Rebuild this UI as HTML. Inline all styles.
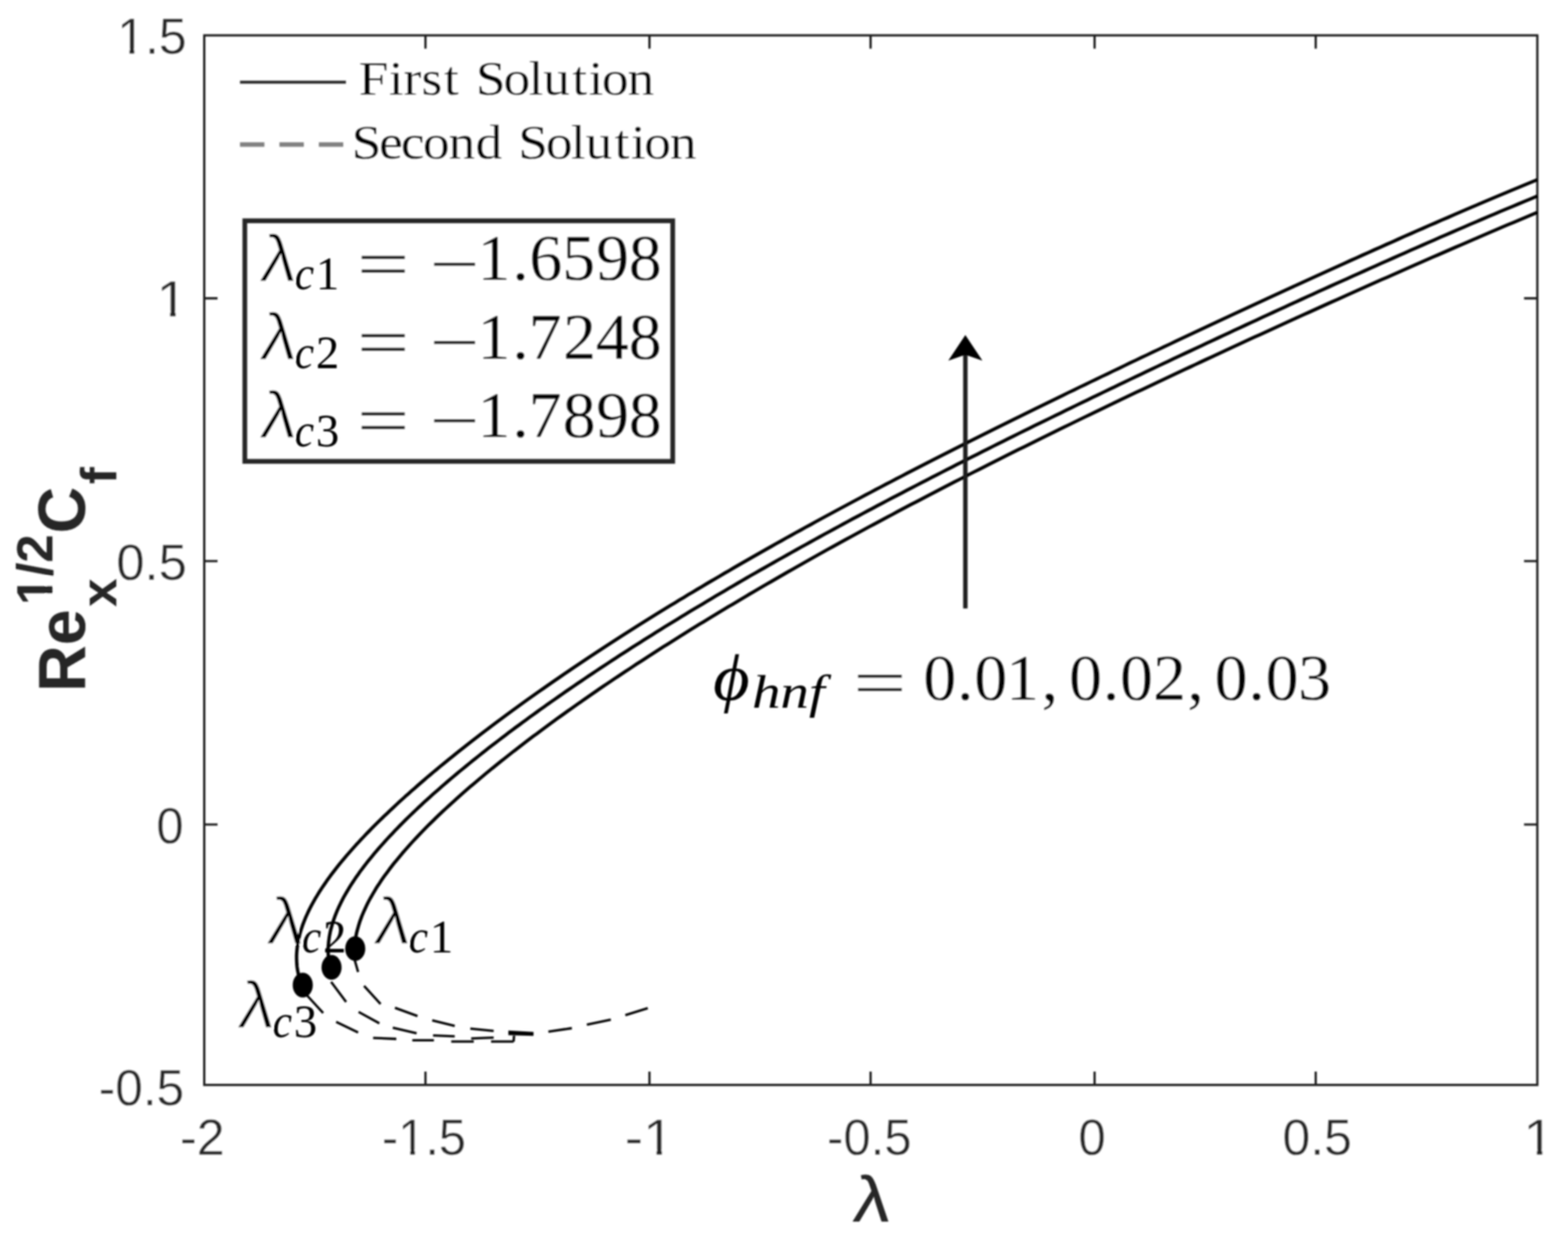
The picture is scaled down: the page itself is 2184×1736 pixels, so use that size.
<!DOCTYPE html>
<html lang="en"><head><meta charset="utf-8"><title>Skin friction vs λ</title><style>html,body{margin:0;padding:0;background:#fff;overflow:hidden}svg{display:block}</style></head><body><svg xmlns="http://www.w3.org/2000/svg" width="2184" height="1736" viewBox="0 0 2184 1736"><defs><filter id="soft" x="0" y="0" width="2184" height="1736" filterUnits="userSpaceOnUse"><feGaussianBlur stdDeviation="0.85"/></filter></defs><rect width="2184" height="1736" fill="#fff"/><g filter="url(#soft)"><g fill="none" stroke="#1e1e1e" stroke-width="3.10" stroke-linecap="butt">
<rect x="284.50" y="49.30" width="1856.80" height="1462.30"/>
<path d="M592.60 1511.60V1493.10M592.60 49.30V67.80M904.60 1511.60V1493.10M904.60 49.30V67.80M1212.60 1511.60V1493.10M1212.60 49.30V67.80M1524.60 1511.60V1493.10M1524.60 49.30V67.80M1832.60 1511.60V1493.10M1832.60 49.30V67.80M284.50 1148.80H303.00M2141.30 1148.80H2122.80M284.50 781.80H303.00M2141.30 781.80H2122.80M284.50 415.60H303.00M2141.30 415.60H2122.80"/>
</g>
<g font-family="'Liberation Sans', sans-serif" font-size="69.60" fill="#262626" stroke="#fff" stroke-width="0.45">
<g transform="translate(163.14 75.10) scale(1.0011 1)"><text>1.5</text><path d="M2.09 -7.31h14.89v11.14h-14.89zM24.08 -7.31h14.62v11.14h-14.62z" fill="#fff" stroke="none"/></g>
<g transform="translate(217.83 440.50) scale(1.1158 1)"><text>1</text><path d="M2.09 -7.31h14.89v11.14h-14.89zM24.08 -7.31h14.62v11.14h-14.62z" fill="#fff" stroke="none"/></g>
<g transform="translate(161.90 808.40) scale(1.0163 1)"><text>0.5</text></g>
<g transform="translate(217.72 1175.00) scale(0.9829 1)"><text>0</text></g>
<g transform="translate(137.38 1540.20) scale(0.9940 1)"><text>-0.5</text></g>
<g transform="translate(250.74 1608.80) scale(1.0070 1)"><text>-2</text></g>
<g transform="translate(531.95 1609.00) scale(0.9776 1)"><text>-1.5</text><path d="M25.27 -7.31h14.89v11.14h-14.89zM47.26 -7.31h14.62v11.14h-14.62z" fill="#fff" stroke="none"/></g>
<g transform="translate(870.35 1609.00) scale(1.0956 1)"><text>-1</text><path d="M25.27 -7.31h14.89v11.14h-14.89zM47.26 -7.31h14.62v11.14h-14.62z" fill="#fff" stroke="none"/></g>
<g transform="translate(1151.97 1608.80) scale(0.9810 1)"><text>-0.5</text></g>
<g transform="translate(1502.04 1608.80) scale(0.9857 1)"><text>0</text></g>
<g transform="translate(1786.15 1608.60) scale(1.0022 1)"><text>0.5</text></g>
<g transform="translate(2121.84 1608.60) scale(1.1000 1)"><text>1</text><path d="M2.09 -7.31h14.89v11.14h-14.89zM24.08 -7.31h14.62v11.14h-14.62z" fill="#fff" stroke="none"/></g>
</g>
<text transform="translate(1186.87 1702.30) skewX(-5.00) scale(1.1395 1.0000)" font-family="'Liberation Sans', sans-serif" font-size="90.50" font-weight="normal" font-style="normal" fill="#262626">λ</text>
<g transform="rotate(-90)" font-family="'Liberation Sans', sans-serif" font-weight="bold" fill="#262626">
<text transform="translate(-964.00 118.20) scale(1 1.030)" font-size="90.00">Re</text>
<text transform="translate(-843.10 73.00) scale(1 1.000)" font-size="71.00">1/2</text>
<path d="M-841.68 63.41h14.70v13.49h-14.70zM-816.33 63.41h13.49v13.49h-13.49z" fill="#fff"/>
<text transform="translate(-845.50 162.30) scale(1 1.000)" font-size="71.00">x</text>
<text transform="translate(-743.30 118.20) scale(1 1.030)" font-size="90.00">C</text>
<text transform="translate(-674.60 162.30) scale(1 1.000)" font-size="71.00">f</text>
</g>
<path d="M334.3 114.4H481.8" stroke="#262626" stroke-width="4" fill="none"/>
<path d="M334.3 201.4H478.5" stroke="#808080" stroke-width="6.4" stroke-dasharray="34 20.9" fill="none"/>
<text transform="scale(1.0900 1)" x="458.28 496.77 515.58 538.57 567.12 588.93 608.15 643.38 675.35 694.00 731.21 752.16 769.06 801.89" y="132.00" font-family="'Liberation Serif', serif" font-size="68.50" fill="#000" stroke="#fff" stroke-width="0.35" xml:space="preserve">First Solution</text>
<text transform="scale(1.0900 1)" x="449.29 484.48 512.24 540.37 573.20 607.60 643.03 662.26 697.48 729.46 748.11 785.32 806.27 823.17 856.00" y="221.30" font-family="'Liberation Serif', serif" font-size="68.50" fill="#000" stroke="#fff" stroke-width="0.35" xml:space="preserve">Second Solution</text>
<rect x="341.0" y="307.6" width="596.0" height="335.2" fill="none" stroke="#262626" stroke-width="6.6"/>
<text transform="translate(360.40 391.60) skewX(-6.00) scale(1.0683 0.9850)" font-family="'Liberation Sans', sans-serif" font-size="94.00" font-weight="normal" font-style="normal" fill="#000" stroke="#fff" stroke-width="1.7">λ</text>
<text transform="translate(410.38 403.40) scale(0.9345 1.0000)" font-family="'Liberation Serif', serif" font-size="65.00" font-weight="normal" font-style="italic" fill="#000">c</text>
<text transform="translate(439.90 403.40) scale(1.0000 1.0000)" font-family="'Liberation Serif', serif" font-size="65.00" font-weight="normal" font-style="normal" fill="#000">1</text>
<text transform="translate(496.76 398.60) scale(1.4059 1.0000)" font-family="'Liberation Serif', serif" font-size="93.00" font-weight="normal" font-style="normal" fill="#000" stroke="#fff" stroke-width="0.5">=</text>
<text transform="translate(598.10 398.60) scale(1.3343 1.0000)" font-family="'Liberation Serif', serif" font-size="93.00" font-weight="normal" font-style="normal" fill="#000" stroke="#fff" stroke-width="0.5">−</text>
<text transform="scale(1.0000 1)" x="664.92 713.58 737.17 782.94 830.32 875.86" y="390.20" font-family="'Liberation Serif', serif" font-size="92.00" fill="#000" stroke="#fff" stroke-width="0.35" xml:space="preserve">1.6598</text>
<text transform="translate(360.40 501.00) skewX(-6.00) scale(1.0683 0.9850)" font-family="'Liberation Sans', sans-serif" font-size="94.00" font-weight="normal" font-style="normal" fill="#000" stroke="#fff" stroke-width="1.7">λ</text>
<text transform="translate(410.38 512.80) scale(0.9345 1.0000)" font-family="'Liberation Serif', serif" font-size="65.00" font-weight="normal" font-style="italic" fill="#000">c</text>
<text transform="translate(439.90 512.80) scale(1.0000 1.0000)" font-family="'Liberation Serif', serif" font-size="65.00" font-weight="normal" font-style="normal" fill="#000">2</text>
<text transform="translate(496.76 508.00) scale(1.4059 1.0000)" font-family="'Liberation Serif', serif" font-size="93.00" font-weight="normal" font-style="normal" fill="#000" stroke="#fff" stroke-width="0.5">=</text>
<text transform="translate(598.10 508.00) scale(1.3343 1.0000)" font-family="'Liberation Serif', serif" font-size="93.00" font-weight="normal" font-style="normal" fill="#000" stroke="#fff" stroke-width="0.5">−</text>
<text transform="scale(1.0000 1)" x="664.92 713.58 736.25 784.32 829.63 875.86" y="499.60" font-family="'Liberation Serif', serif" font-size="92.00" fill="#000" stroke="#fff" stroke-width="0.35" xml:space="preserve">1.7248</text>
<text transform="translate(360.40 610.40) skewX(-6.00) scale(1.0683 0.9850)" font-family="'Liberation Sans', sans-serif" font-size="94.00" font-weight="normal" font-style="normal" fill="#000" stroke="#fff" stroke-width="1.7">λ</text>
<text transform="translate(410.38 622.20) scale(0.9345 1.0000)" font-family="'Liberation Serif', serif" font-size="65.00" font-weight="normal" font-style="italic" fill="#000">c</text>
<text transform="translate(439.90 622.20) scale(1.0000 1.0000)" font-family="'Liberation Serif', serif" font-size="65.00" font-weight="normal" font-style="normal" fill="#000">3</text>
<text transform="translate(496.76 617.40) scale(1.4059 1.0000)" font-family="'Liberation Serif', serif" font-size="93.00" font-weight="normal" font-style="normal" fill="#000" stroke="#fff" stroke-width="0.5">=</text>
<text transform="translate(598.10 617.40) scale(1.3343 1.0000)" font-family="'Liberation Serif', serif" font-size="93.00" font-weight="normal" font-style="normal" fill="#000" stroke="#fff" stroke-width="0.5">−</text>
<text transform="scale(1.0000 1)" x="664.92 713.58 736.25 783.86 830.32 875.86" y="609.00" font-family="'Liberation Serif', serif" font-size="92.00" fill="#000" stroke="#fff" stroke-width="0.35" xml:space="preserve">1.7898</text>
<text transform="translate(993.24 975.00) scale(1.0708 1.0000)" font-family="'Liberation Serif', serif" font-size="92.00" font-weight="normal" font-style="italic" fill="#000">ϕ</text>
<text transform="translate(1047.43 986.20) scale(1.2194 1.0000)" font-family="'Liberation Serif', serif" font-size="65.00" font-weight="normal" font-style="italic" fill="#000">hnf</text>
<text transform="translate(1188.27 982.00) scale(1.4423 1.0000)" font-family="'Liberation Serif', serif" font-size="92.00" font-weight="normal" font-style="normal" fill="#000" stroke="#fff" stroke-width="0.5">=</text>
<text transform="scale(1.0000 1)" x="1286.03 1333.03 1357.04 1401.31 1450.84" y="975.00" font-family="'Liberation Serif', serif" font-size="92.00" fill="#000" stroke="#fff" stroke-width="0.35" xml:space="preserve">0.01,</text>
<text transform="scale(1.0000 1)" x="1488.91 1535.92 1559.93 1606.04 1653.73" y="975.00" font-family="'Liberation Serif', serif" font-size="92.00" fill="#000" stroke="#fff" stroke-width="0.35" xml:space="preserve">0.02,</text>
<text transform="scale(1.0000 1)" x="1691.80 1738.81 1762.82 1808.01" y="975.00" font-family="'Liberation Serif', serif" font-size="92.00" fill="#000" stroke="#fff" stroke-width="0.35" xml:space="preserve">0.03</text>
<text transform="translate(519.20 1315.20) skewX(-6.00) scale(1.0683 0.9850)" font-family="'Liberation Sans', sans-serif" font-size="94.00" font-weight="normal" font-style="normal" fill="#000" stroke="#fff" stroke-width="1.7">λ</text>
<text transform="translate(569.18 1327.00) scale(0.9345 1.0000)" font-family="'Liberation Serif', serif" font-size="65.00" font-weight="normal" font-style="italic" fill="#000">c</text>
<text transform="translate(598.70 1327.00) scale(1.0000 1.0000)" font-family="'Liberation Serif', serif" font-size="65.00" font-weight="normal" font-style="normal" fill="#000">1</text>
<text transform="translate(370.60 1315.20) skewX(-6.00) scale(1.0683 0.9850)" font-family="'Liberation Sans', sans-serif" font-size="94.00" font-weight="normal" font-style="normal" fill="#000" stroke="#fff" stroke-width="1.7">λ</text>
<text transform="translate(420.58 1327.00) scale(0.9345 1.0000)" font-family="'Liberation Serif', serif" font-size="65.00" font-weight="normal" font-style="italic" fill="#000">c</text>
<text transform="translate(450.10 1327.00) scale(1.0000 1.0000)" font-family="'Liberation Serif', serif" font-size="65.00" font-weight="normal" font-style="normal" fill="#000">2</text>
<text transform="translate(329.70 1432.00) skewX(-6.00) scale(1.0683 0.9850)" font-family="'Liberation Sans', sans-serif" font-size="94.00" font-weight="normal" font-style="normal" fill="#000" stroke="#fff" stroke-width="1.7">λ</text>
<text transform="translate(379.68 1444.60) scale(0.9345 1.0000)" font-family="'Liberation Serif', serif" font-size="65.00" font-weight="normal" font-style="italic" fill="#000">c</text>
<text transform="translate(409.20 1444.60) scale(1.0000 1.0000)" font-family="'Liberation Serif', serif" font-size="65.00" font-weight="normal" font-style="normal" fill="#000">3</text>
<g fill="none" stroke="#000" stroke-width="4.70" stroke-linejoin="round">
<path d="M2141.3 250.4L2132.1 254.1L2123.0 257.9L2114.0 261.6L2104.9 265.4L2096.0 269.2L2087.0 272.9L2078.1 276.7L2069.2 280.4L2060.4 284.2L2051.6 287.9L2042.8 291.7L2034.1 295.4L2025.4 299.2L2016.7 303.0L2008.0 306.7L1999.4 310.5L1990.8 314.2L1982.2 318.0L1973.7 321.7L1965.1 325.5L1956.6 329.2L1948.1 333.0L1939.7 336.8L1931.2 340.5L1922.8 344.3L1914.4 348.0L1906.0 351.8L1897.7 355.5L1889.3 359.3L1881.0 363.0L1872.7 366.8L1864.4 370.6L1856.1 374.3L1847.8 378.1L1839.6 381.8L1831.3 385.6L1823.1 389.3L1814.9 393.1L1806.7 396.8L1798.5 400.6L1790.3 404.3L1782.2 408.1L1774.0 411.9L1765.9 415.6L1757.8 419.4L1749.7 423.1L1741.6 426.9L1733.5 430.6L1725.4 434.4L1717.3 438.1L1709.3 441.9L1701.2 445.7L1693.2 449.4L1685.2 453.2L1677.2 456.9L1669.2 460.7L1661.2 464.4L1653.2 468.2L1645.2 471.9L1637.2 475.7L1629.3 479.5L1621.4 483.2L1613.4 487.0L1605.5 490.7L1597.6 494.5L1589.7 498.2L1581.8 502.0L1573.9 505.7L1566.1 509.5L1558.2 513.3L1550.4 517.0L1542.6 520.8L1534.8 524.5L1526.9 528.3L1519.2 532.0L1511.4 535.8L1503.6 539.5L1495.9 543.3L1488.1 547.0L1480.4 550.8L1472.7 554.6L1465.0 558.3L1457.3 562.1L1449.6 565.8L1441.9 569.6L1434.3 573.3L1426.7 577.1L1419.1 580.8L1411.4 584.6L1403.9 588.4L1396.3 592.1L1388.7 595.9L1381.2 599.6L1373.7 603.4L1366.2 607.1L1358.7 610.9L1351.2 614.6L1343.7 618.4L1336.3 622.2L1328.9 625.9L1321.5 629.7L1314.1 633.4L1306.7 637.2L1299.3 640.9L1292.0 644.7L1284.7 648.4L1277.4 652.2L1270.1 655.9L1262.8 659.7L1255.6 663.5L1248.4 667.2L1241.2 671.0L1234.0 674.7L1226.8 678.5L1219.7 682.2L1212.6 686.0L1205.5 689.7L1198.4 693.5L1191.3 697.3L1184.3 701.0L1177.3 704.8L1170.3 708.5L1163.3 712.3L1156.4 716.0L1149.4 719.8L1142.5 723.5L1135.6 727.3L1128.8 731.1L1121.9 734.8L1115.1 738.6L1108.3 742.3L1101.5 746.1L1094.8 749.8L1088.1 753.6L1081.4 757.3L1074.7 761.1L1068.0 764.9L1061.4 768.6L1054.8 772.4L1048.2 776.1L1041.7 779.9L1035.1 783.6L1028.6 787.4L1022.1 791.1L1015.7 794.9L1009.2 798.6L1002.8 802.4L996.4 806.2L990.1 809.9L983.7 813.6L977.4 817.4L971.1 821.1L964.8 824.9L958.6 828.6L952.4 832.4L946.2 836.1L940.0 839.9L933.9 843.6L927.8 847.3L921.7 851.1L915.6 854.8L909.6 858.6L903.6 862.3L897.6 866.1L891.6 869.8L885.7 873.6L879.8 877.3L873.9 881.0L868.0 884.8L862.2 888.5L856.4 892.3L850.6 896.0L844.8 899.8L839.1 903.5L833.4 907.3L827.7 911.0L822.0 914.7L816.4 918.5L810.8 922.2L805.2 926.0L799.6 929.7L794.1 933.5L788.6 937.2L783.1 941.0L777.7 944.7L772.2 948.5L766.8 952.2L761.4 956.0L756.1 959.7L750.8 963.4L745.5 967.2L740.2 970.9L734.9 974.7L729.7 978.4L724.5 982.2L719.4 985.9L714.2 989.7L709.1 993.4L704.0 997.2L699.0 1000.9L693.9 1004.7L688.9 1008.4L683.9 1012.1L679.0 1015.9L674.0 1019.6L669.1 1023.4L664.3 1027.1L659.4 1030.9L654.6 1034.6L649.8 1038.4L645.1 1042.1L640.3 1045.9L635.6 1049.6L631.0 1053.4L626.3 1057.1L621.7 1060.9L617.1 1064.6L612.6 1068.3L608.1 1072.1L603.6 1075.8L599.1 1079.6L594.7 1083.3L590.3 1087.1L585.9 1090.9L581.6 1094.6L577.3 1098.4L573.1 1102.1L568.8 1105.9L564.6 1109.6L560.5 1113.4L556.4 1117.1L552.3 1120.9L548.2 1124.7L544.2 1128.4L540.3 1132.2L536.3 1135.9L532.4 1139.7L528.6 1143.4L524.8 1147.2L521.0 1150.9L517.3 1154.7L513.6 1158.5L510.0 1162.2L506.4 1166.0L502.9 1169.7L499.4 1173.5L495.9 1177.2L492.5 1181.0L489.2 1184.7L485.9 1188.5L482.6 1192.2L479.5 1196.0L476.3 1199.8L473.2 1203.5L470.2 1207.3L467.3 1211.0L464.4 1214.8L461.5 1218.5L458.7 1222.3L456.0 1226.0L453.4 1229.8L450.8 1233.6L448.3 1237.3L445.8 1241.1L443.5 1244.8L441.2 1248.6L438.9 1252.3L436.8 1256.1L434.7 1259.8L432.7 1263.6L430.8 1267.4L429.0 1271.1L427.3 1274.9L425.6 1278.6L424.1 1282.4L422.6 1286.1L421.2 1289.9L420.0 1293.6L418.8 1297.4L417.7 1301.2L416.8 1304.9L415.9 1308.7L415.1 1312.4L414.5 1316.2L414.0 1319.9L413.6 1323.7L413.3 1327.4L413.1 1331.2L413.1 1334.9L413.2 1338.7L413.4 1342.5L413.7 1346.2L414.2 1350.0L414.9 1353.7L415.6 1357.5L416.6 1361.2L417.6 1365.0L418.9 1368.7L420.2 1372.5"/>
<path d="M2141.3 273.2L2132.6 276.8L2124.0 280.4L2115.3 284.0L2106.8 287.6L2098.2 291.1L2089.7 294.7L2081.2 298.3L2072.7 301.9L2064.3 305.5L2055.9 309.1L2047.5 312.7L2039.1 316.3L2030.8 319.9L2022.5 323.5L2014.2 327.1L2005.9 330.7L1997.7 334.3L1989.5 337.9L1981.3 341.5L1973.1 345.1L1964.9 348.7L1956.8 352.3L1948.7 355.9L1940.6 359.5L1932.5 363.1L1924.4 366.7L1916.3 370.3L1908.3 373.9L1900.3 377.5L1892.3 381.1L1884.3 384.7L1876.3 388.3L1868.3 391.8L1860.4 395.4L1852.4 399.0L1844.5 402.6L1836.6 406.2L1828.7 409.8L1820.8 413.4L1812.9 417.0L1805.1 420.6L1797.2 424.2L1789.4 427.8L1781.6 431.4L1773.7 435.0L1765.9 438.6L1758.1 442.2L1750.4 445.8L1742.6 449.4L1734.8 453.0L1727.1 456.6L1719.3 460.2L1711.6 463.8L1703.9 467.4L1696.2 471.0L1688.5 474.6L1680.8 478.2L1673.1 481.8L1665.5 485.4L1657.8 489.0L1650.2 492.5L1642.5 496.1L1634.9 499.7L1627.3 503.3L1619.7 506.9L1612.1 510.5L1604.5 514.1L1597.0 517.7L1589.4 521.3L1581.9 524.9L1574.3 528.5L1566.8 532.1L1559.3 535.7L1551.8 539.3L1544.3 542.9L1536.8 546.5L1529.4 550.1L1521.9 553.7L1514.5 557.3L1507.0 560.9L1499.6 564.5L1492.2 568.1L1484.8 571.7L1477.5 575.3L1470.1 578.9L1462.8 582.5L1455.4 586.1L1448.1 589.7L1440.8 593.2L1433.5 596.8L1426.2 600.4L1418.9 604.0L1411.7 607.6L1404.5 611.2L1397.2 614.8L1390.0 618.4L1382.8 622.0L1375.7 625.6L1368.5 629.2L1361.4 632.8L1354.2 636.4L1347.1 640.0L1340.0 643.6L1332.9 647.2L1325.9 650.8L1318.8 654.4L1311.8 658.0L1304.8 661.6L1297.8 665.2L1290.8 668.8L1283.8 672.4L1276.9 676.0L1269.9 679.6L1263.0 683.2L1256.1 686.8L1249.3 690.4L1242.4 693.9L1235.6 697.5L1228.8 701.1L1222.0 704.7L1215.2 708.3L1208.4 711.9L1201.7 715.5L1195.0 719.1L1188.2 722.7L1181.6 726.3L1174.9 729.9L1168.3 733.5L1161.6 737.1L1155.0 740.7L1148.4 744.3L1141.9 747.9L1135.3 751.5L1128.8 755.1L1122.3 758.7L1115.8 762.3L1109.4 765.9L1102.9 769.5L1096.5 773.1L1090.1 776.7L1083.7 780.3L1077.4 783.9L1071.0 787.5L1064.7 791.1L1058.4 794.6L1052.2 798.2L1045.9 801.8L1039.7 805.4L1033.5 809.0L1027.3 812.6L1021.2 816.2L1015.0 819.8L1008.9 823.4L1002.8 827.0L996.7 830.6L990.7 834.2L984.7 837.8L978.7 841.4L972.7 845.0L966.7 848.5L960.8 852.1L954.9 855.7L949.0 859.3L943.1 862.9L937.3 866.5L931.5 870.1L925.7 873.6L919.9 877.2L914.1 880.8L908.4 884.4L902.7 888.0L897.0 891.6L891.4 895.2L885.7 898.7L880.1 902.3L874.5 905.9L869.0 909.5L863.4 913.1L857.9 916.7L852.4 920.3L847.0 923.9L841.5 927.4L836.1 931.0L830.7 934.6L825.3 938.2L820.0 941.8L814.7 945.4L809.4 949.0L804.1 952.5L798.9 956.1L793.6 959.7L788.4 963.3L783.3 966.9L778.1 970.5L773.0 974.1L767.9 977.7L762.8 981.2L757.8 984.8L752.7 988.4L747.8 992.0L742.8 995.6L737.8 999.2L732.9 1002.8L728.0 1006.4L723.2 1010.0L718.3 1013.5L713.5 1017.1L708.7 1020.7L704.0 1024.3L699.3 1027.9L694.6 1031.5L689.9 1035.1L685.2 1038.7L680.6 1042.2L676.0 1045.8L671.5 1049.4L667.0 1053.0L662.5 1056.6L658.0 1060.2L653.6 1063.8L649.2 1067.4L644.8 1071.0L640.4 1074.5L636.1 1078.1L631.8 1081.7L627.6 1085.3L623.4 1088.9L619.2 1092.5L615.1 1096.1L611.0 1099.7L606.9 1103.3L602.8 1106.8L598.8 1110.4L594.9 1114.0L590.9 1117.6L587.0 1121.2L583.2 1124.8L579.4 1128.4L575.6 1132.0L571.8 1135.6L568.2 1139.2L564.5 1142.8L560.9 1146.4L557.3 1150.0L553.8 1153.6L550.3 1157.2L546.9 1160.8L543.5 1164.4L540.1 1168.0L536.8 1171.6L533.6 1175.2L530.4 1178.8L527.2 1182.4L524.1 1186.0L521.1 1189.6L518.1 1193.2L515.2 1196.7L512.3 1200.3L509.5 1203.9L506.7 1207.5L504.0 1211.1L501.3 1214.7L498.8 1218.3L496.2 1221.9L493.8 1225.5L491.4 1229.1L489.0 1232.7L486.8 1236.3L484.6 1239.9L482.5 1243.5L480.4 1247.1L478.4 1250.7L476.5 1254.3L474.7 1257.9L473.0 1261.5L471.3 1265.1L469.7 1268.7L468.2 1272.3L466.8 1275.9L465.5 1279.5L464.3 1283.1L463.1 1286.7L462.1 1290.3L461.1 1293.9L460.2 1297.4L459.5 1301.0L458.8 1304.6L458.3 1308.2L457.8 1311.8L457.5 1315.4L457.2 1319.0L457.1 1322.6L457.1 1326.2L457.2 1329.8L457.4 1333.4L457.8 1337.0L458.3 1340.6L458.9 1344.2L459.6 1347.8"/>
<path d="M2141.3 295.8L2133.0 299.3L2124.8 302.8L2116.5 306.3L2108.3 309.8L2100.1 313.2L2091.9 316.7L2083.8 320.2L2075.6 323.7L2067.5 327.1L2059.4 330.6L2051.3 334.1L2043.3 337.6L2035.2 341.1L2027.2 344.5L2019.2 348.0L2011.2 351.5L2003.2 355.0L1995.2 358.4L1987.3 361.9L1979.4 365.4L1971.4 368.9L1963.5 372.4L1955.6 375.8L1947.8 379.3L1939.9 382.8L1932.1 386.3L1924.2 389.7L1916.4 393.2L1908.6 396.7L1900.8 400.2L1893.0 403.7L1885.2 407.1L1877.4 410.6L1869.7 414.1L1862.0 417.6L1854.2 421.0L1846.5 424.5L1838.8 428.0L1831.1 431.5L1823.4 435.0L1815.8 438.4L1808.1 441.9L1800.4 445.4L1792.8 448.9L1785.2 452.3L1777.6 455.8L1770.0 459.3L1762.4 462.8L1754.8 466.3L1747.2 469.7L1739.6 473.2L1732.1 476.7L1724.6 480.2L1717.0 483.6L1709.5 487.1L1702.0 490.6L1694.5 494.1L1687.0 497.6L1679.6 501.0L1672.1 504.5L1664.7 508.0L1657.2 511.5L1649.8 514.9L1642.4 518.4L1635.0 521.9L1627.6 525.4L1620.2 528.9L1612.8 532.3L1605.5 535.8L1598.1 539.3L1590.8 542.8L1583.5 546.2L1576.2 549.7L1568.9 553.2L1561.6 556.7L1554.4 560.2L1547.1 563.6L1539.9 567.1L1532.7 570.6L1525.4 574.1L1518.2 577.5L1511.1 581.0L1503.9 584.5L1496.7 588.0L1489.6 591.5L1482.5 594.9L1475.3 598.4L1468.3 601.9L1461.2 605.4L1454.1 608.8L1447.0 612.3L1440.0 615.8L1433.0 619.3L1426.0 622.8L1419.0 626.2L1412.0 629.7L1405.0 633.2L1398.1 636.7L1391.2 640.1L1384.2 643.6L1377.3 647.1L1370.5 650.6L1363.6 654.1L1356.8 657.5L1349.9 661.0L1343.1 664.5L1336.3 668.0L1329.5 671.4L1322.8 674.9L1316.0 678.4L1309.3 681.9L1302.6 685.4L1295.9 688.8L1289.2 692.3L1282.6 695.8L1275.9 699.3L1269.3 702.7L1262.7 706.2L1256.1 709.7L1249.5 713.2L1243.0 716.7L1236.5 720.1L1230.0 723.6L1223.5 727.1L1217.0 730.6L1210.5 734.0L1204.1 737.5L1197.7 741.0L1191.3 744.5L1184.9 748.0L1178.6 751.4L1172.2 754.9L1165.9 758.4L1159.6 761.9L1153.3 765.3L1147.1 768.8L1140.8 772.3L1134.6 775.8L1128.4 779.3L1122.2 782.7L1116.1 786.2L1109.9 789.7L1103.8 793.2L1097.7 796.6L1091.7 800.1L1085.6 803.6L1079.6 807.1L1073.6 810.6L1067.6 814.0L1061.6 817.5L1055.6 821.0L1049.7 824.5L1043.8 827.9L1037.9 831.4L1032.0 834.9L1026.2 838.4L1020.4 841.9L1014.5 845.3L1008.8 848.8L1003.0 852.3L997.3 855.8L991.5 859.2L985.8 862.7L980.2 866.2L974.5 869.6L968.9 873.1L963.2 876.6L957.6 880.0L952.1 883.5L946.5 887.0L941.0 890.4L935.5 893.9L930.0 897.4L924.5 900.8L919.1 904.3L913.7 907.8L908.3 911.3L902.9 914.7L897.6 918.2L892.2 921.7L886.9 925.1L881.6 928.6L876.4 932.1L871.1 935.5L865.9 939.0L860.7 942.5L855.5 945.9L850.4 949.4L845.2 952.9L840.1 956.3L835.0 959.8L830.0 963.3L824.9 966.8L819.9 970.2L814.9 973.7L810.0 977.2L805.0 980.6L800.1 984.1L795.2 987.6L790.3 991.0L785.5 994.5L780.6 998.0L775.8 1001.4L771.1 1004.9L766.3 1008.4L761.6 1011.9L756.9 1015.3L752.2 1018.8L747.6 1022.3L742.9 1025.7L738.3 1029.2L733.7 1032.7L729.2 1036.1L724.7 1039.6L720.2 1043.1L715.7 1046.5L711.3 1050.0L706.9 1053.5L702.5 1057.0L698.1 1060.4L693.8 1063.9L689.5 1067.4L685.2 1070.8L681.0 1074.3L676.7 1077.8L672.6 1081.2L668.4 1084.7L664.3 1088.2L660.2 1091.7L656.1 1095.1L652.1 1098.6L648.1 1102.1L644.1 1105.5L640.2 1109.0L636.3 1112.5L632.5 1116.0L628.6 1119.4L624.8 1122.9L621.1 1126.4L617.4 1129.8L613.7 1133.3L610.0 1136.8L606.4 1140.3L602.9 1143.7L599.3 1147.2L595.8 1150.7L592.4 1154.2L589.0 1157.6L585.6 1161.1L582.3 1164.6L579.0 1168.1L575.8 1171.5L572.6 1175.0L569.5 1178.5L566.4 1182.0L563.3 1185.5L560.3 1188.9L557.4 1192.4L554.5 1195.9L551.6 1199.4L548.8 1202.8L546.1 1206.3L543.4 1209.8L540.8 1213.3L538.2 1216.8L535.7 1220.2L533.2 1223.7L530.8 1227.2L528.5 1230.7L526.2 1234.1L524.0 1237.6L521.9 1241.1L519.8 1244.6L517.8 1248.1L515.8 1251.5L513.9 1255.0L512.1 1258.5L510.4 1262.0L508.8 1265.4L507.2 1268.9L505.7 1272.4L504.2 1275.9L502.9 1279.4L501.6 1282.8L500.5 1286.3L499.4 1289.8L498.4 1293.3L497.5 1296.7L496.6 1300.2L495.9 1303.7L495.3 1307.2L494.7 1310.7L494.3 1314.1L493.9 1317.6L493.7 1321.1L493.6 1324.6L493.5 1328.0L493.6 1331.5L493.8 1335.0"/>
</g>
<g fill="none" stroke="#000" stroke-width="3.3" stroke-linecap="butt">
<path d="M493.6 1336.0L498.8 1354.3M507.1 1373.7L530.1 1398.8M550.1 1404.1L581.5 1415.6M602.0 1421.6L633.4 1429.4M655.1 1433.1L687.6 1436.4M708.1 1437.5L743.1 1439.5M763.8 1437.4L796.5 1432.5M817.4 1427.7L850.8 1420.7M871.0 1414.4L902.3 1404.7"/>
<path d="M461.2 1368.0L482.1 1396.0M499.5 1409.9L528.4 1425.8M547.1 1431.9L580.3 1439.7M603.2 1442.7L633.4 1443.9M656.3 1446.9L687.6 1445.7M708.1 1440.5L743.1 1441.5"/>
<path d="M425.0 1384.0L450.1 1411.3M468.2 1423.8L498.8 1438.4M519.7 1446.1L552.0 1447.5M574.3 1449.3L604.4 1449.3M628.5 1451.2L659.9 1451.2M684.0 1451.2L715.4 1451.2M715.4 1451.2L716.0 1443.0"/>
</g>
<ellipse cx="494.8" cy="1321.7" rx="14" ry="17.2" fill="#000"/>
<ellipse cx="461.8" cy="1347.8" rx="14" ry="17.2" fill="#000"/>
<ellipse cx="421.7" cy="1372.5" rx="14" ry="17.2" fill="#000"/>
<path d="M1344.6 847.7V490" stroke="#1a1a1a" stroke-width="6.0" fill="none"/>
<path d="M1344.6 466.8L1368.4 502.6L1344.6 494.3L1320.8 502.6Z" fill="#000"/></g></svg></body></html>
